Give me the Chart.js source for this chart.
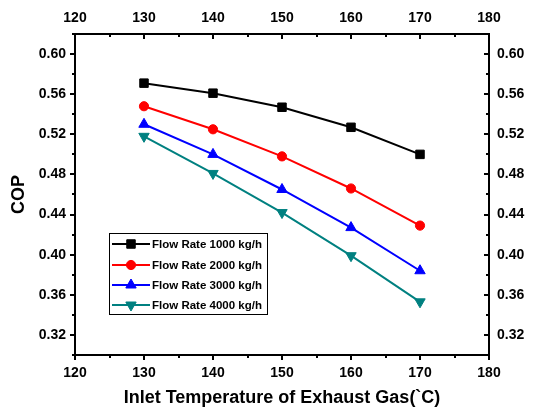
<!DOCTYPE html>
<html>
<head>
<meta charset="utf-8">
<script src="https://cdn.jsdelivr.net/npm/chart.js@4/dist/chart.umd.min.js"></script>
<style>
  html, body { margin: 0; padding: 0; background: #fff; }
  canvas { display: block; }
</style>
</head>
<body>
<canvas id="c" width="538" height="415"></canvas>
<script>
// ---- data ----
const temperatures = [130, 140, 150, 160, 170];
const seriesNames = ['Flow Rate 1000 kg/h', 'Flow Rate 2000 kg/h', 'Flow Rate 3000 kg/h', 'Flow Rate 4000 kg/h'];
const cop1000 = [0.571, 0.561, 0.547, 0.527, 0.500];
const cop2000 = [0.548, 0.525, 0.498, 0.466, 0.429];
const cop3000 = [0.530, 0.500, 0.465, 0.427, 0.384];
const cop4000 = [0.518, 0.481, 0.442, 0.399, 0.353];
const xTickLabels = [120, 130, 140, 150, 160, 170, 180];
const yTickLabels = [0.32, 0.36, 0.40, 0.44, 0.48, 0.52, 0.56, 0.60];
const xMinorTicks = [125, 135, 145, 155, 165, 175];
const yMinorTicks = [0.30, 0.34, 0.38, 0.42, 0.46, 0.50, 0.54, 0.58, 0.62];

const FONT = "'Liberation Sans', Arial, sans-serif";
const colors = ['#000000', '#ff0000', '#0000ff', '#008080'];
const styles = ['rect', 'circle', 'triangle', 'triangle'];
const rotations = [0, 0, 0, 180];
const radii = [6, 4.6, 6, 6];
const allSeries = [cop1000, cop2000, cop3000, cop4000];

const datasets = allSeries.map((vals, i) => ({
  label: seriesNames[i],
  data: temperatures.map((t, j) => ({ x: t, y: vals[j] })),
  borderColor: colors[i],
  backgroundColor: colors[i],
  borderWidth: 2,
  pointStyle: styles[i],
  pointRotation: rotations[i],
  pointRadius: radii[i],
  pointBorderWidth: 1,
  pointBackgroundColor: colors[i],
  pointBorderColor: colors[i],
  tension: 0
}));

function fixSize(w, h) {
  return function (scale) {
    if (w !== null) scale.width = w;
    if (h !== null) scale.height = h;
  };
}

const tickFont = { family: FONT, size: 14, weight: 'bold' };
const titleFont = { family: FONT, size: 18, weight: 'bold' };
const noGrid = { display: false, drawTicks: false, tickLength: 0 };

const tickPlugin = {
  id: 'ticksAndLegend',
  afterDraw(chart) {
    const ctx = chart.ctx;
    const a = chart.chartArea;
    const sx = chart.scales.x, sy = chart.scales.y;
    ctx.save();
    ctx.strokeStyle = '#000';
    ctx.lineWidth = 2;
    ctx.beginPath();
    // bottom (outward), top (inward)
    xTickLabels.forEach(v => {
      const px = Math.round(sx.getPixelForValue(v));
      ctx.moveTo(px, a.bottom); ctx.lineTo(px, a.bottom + 5);
      ctx.moveTo(px, a.top); ctx.lineTo(px, a.top + 5);
    });
    xMinorTicks.forEach(v => {
      const px = Math.round(sx.getPixelForValue(v));
      ctx.moveTo(px, a.bottom); ctx.lineTo(px, a.bottom + 3);
      ctx.moveTo(px, a.top); ctx.lineTo(px, a.top + 3);
    });
    // left (outward), right (inward)
    yTickLabels.forEach(v => {
      const py = Math.round(sy.getPixelForValue(v));
      ctx.moveTo(a.left, py); ctx.lineTo(a.left - 5, py);
      ctx.moveTo(a.right, py); ctx.lineTo(a.right - 5, py);
    });
    yMinorTicks.forEach(v => {
      const py = Math.round(sy.getPixelForValue(v));
      ctx.moveTo(a.left, py); ctx.lineTo(a.left - 3, py);
      ctx.moveTo(a.right, py); ctx.lineTo(a.right - 3, py);
    });
    ctx.stroke();

    // legend box
    const lx = a.left + 34, ly = a.top + 199, lw = 158, lh = 81;
    ctx.lineWidth = 1;
    ctx.strokeStyle = '#000';
    ctx.fillStyle = '#fff';
    ctx.fillRect(lx, ly, lw, lh);
    ctx.strokeRect(lx + 0.5, ly + 0.5, lw, lh);
    ctx.font = "bold 11.5px " + FONT;
    ctx.textBaseline = 'middle';
    ctx.textAlign = 'left';
    const rowY = [11, 32, 52, 72];
    chart.data.datasets.forEach((ds, i) => {
      const y = ly + rowY[i];
      ctx.strokeStyle = ds.borderColor;
      ctx.lineWidth = 2;
      ctx.beginPath();
      ctx.moveTo(lx + 3, y); ctx.lineTo(lx + 41, y);
      ctx.stroke();
      ctx.fillStyle = ds.backgroundColor;
      ctx.strokeStyle = ds.borderColor;
      ctx.lineWidth = 1;
      Chart.helpers.drawPoint(ctx, {
        pointStyle: ds.pointStyle, rotation: ds.pointRotation,
        radius: ds.pointRadius, borderWidth: 1
      }, lx + 22, y);
      ctx.fillStyle = '#000';
      ctx.fillText(ds.label, lx + 43, y + 1);
    });
    ctx.restore();
  }
};

new Chart(document.getElementById('c'), {
  type: 'line',
  data: { datasets },
  options: {
    responsive: false,
    animation: false,
    layout: { padding: 0 },
    plugins: { legend: { display: false }, tooltip: { enabled: false } },
    scales: {
      x: {
        type: 'linear', position: 'bottom', min: 120, max: 180,
        afterBuildTicks: s => { s.ticks = xTickLabels.map(v => ({ value: v })); },
        afterFit: fixSize(null, 60),
        grid: noGrid,
        border: { display: true, color: '#000', width: 2 },
        ticks: { font: tickFont, color: '#000', padding: 10, maxRotation: 0, callback: v => String(v) },
        title: { display: true, text: 'Inlet Temperature of Exhaust Gas(`C)', color: '#000',
                 font: titleFont, padding: { top: 0, bottom: 6 } }
      },
      x2: {
        type: 'linear', position: 'top', min: 120, max: 180,
        afterBuildTicks: s => { s.ticks = xTickLabels.map(v => ({ value: v })); },
        afterFit: fixSize(null, 34),
        grid: noGrid,
        border: { display: true, color: '#000', width: 2 },
        ticks: { font: tickFont, color: '#000', padding: 7, maxRotation: 0, callback: v => String(v) }
      },
      y: {
        type: 'linear', position: 'left', min: 0.30, max: 0.62,
        afterBuildTicks: s => { s.ticks = yTickLabels.map(v => ({ value: v })); },
        afterFit: fixSize(75, null),
        grid: noGrid,
        border: { display: true, color: '#000', width: 2 },
        ticks: { font: tickFont, color: '#000', padding: 9, callback: v => Number(v).toFixed(2) },
        title: { display: true, text: 'COP', color: '#000',
                 font: titleFont, padding: { top: 8, bottom: 0 } }
      },
      y2: {
        type: 'linear', position: 'right', min: 0.30, max: 0.62,
        afterBuildTicks: s => { s.ticks = yTickLabels.map(v => ({ value: v })); },
        afterFit: fixSize(49, null),
        grid: noGrid,
        border: { display: true, color: '#000', width: 2 },
        ticks: { font: tickFont, color: '#000', padding: 8, callback: v => Number(v).toFixed(2) }
      }
    }
  },
  plugins: [tickPlugin]
});
</script>
</body>
</html>
